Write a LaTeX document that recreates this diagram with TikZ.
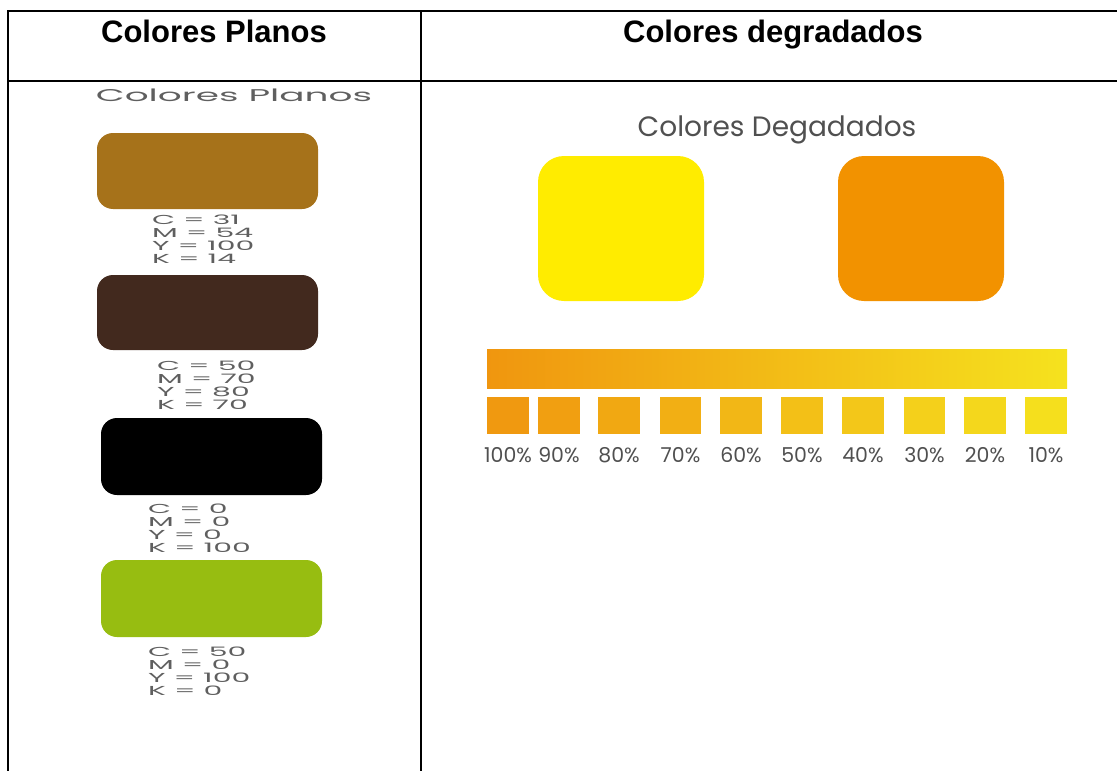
\documentclass[tikz,border=0pt]{standalone}
\usepackage{fontspec}
\setmainfont{Liberation Sans}
\newfontfamily\gfont{Poppins}
\definecolor{cbrown}{RGB}{166,114,26}
\definecolor{cdark}{RGB}{66,41,30}
\definecolor{cgreen}{RGB}{151,189,17}
\definecolor{cyellow}{RGB}{255,236,0}
\definecolor{corange}{RGB}{242,146,0}
\definecolor{gL}{RGB}{240,150,15}
\definecolor{gR}{RGB}{245,226,30}
\definecolor{txtgray}{RGB}{80,80,80}
\definecolor{lgray}{RGB}{95,95,95}
\tikzset{
  rule/.style={line width=1.6pt, black},
  header/.style={font=\fontsize{31}{36}\selectfont\bfseries, anchor=base, inner sep=0pt},
  swatch/.style={rounded corners=16pt},
  cmyk/.style={font=\gfont\fontsize{13}{13}\selectfont, text=lgray, anchor=west, inner sep=0pt},
  pct/.style={font=\gfont\fontsize{20.5}{20.5}\selectfont, text=txtgray, inner sep=0pt},
}
\newcommand{\sx}[1]{\scalebox{2.3}[1]{#1}}
\begin{document}
\begin{tikzpicture}[x=1pt,y=-1pt]
\useasboundingbox (0,0) rectangle (1117,771);
% table rules
\coordinate (tl) at (8,11);
\coordinate (tr) at (1117,11);
\coordinate (ml) at (8,81);
\coordinate (mr) at (1117,81);
\coordinate (bl) at (8,771);
\coordinate (ct) at (421,11);
\coordinate (cb) at (421,771);
\draw[rule] (bl) -- (tl) -- (tr);
\draw[rule] (ml) -- (mr);
\draw[rule] (ct) -- (cb);
% headers
\node[header] (h1) at (214,42) {Colores Planos};
\node[header] (h2) at (773,42) {Colores degradados};
% left column
\node[font=\gfont\fontsize{17}{17}\selectfont, text=lgray, inner sep=0pt] (lt) at (234,95) {\scalebox{2.2}[1]{Colores Planos}};
\fill[cbrown, swatch] (97,133) rectangle (318,209);
\fill[cdark, swatch] (97,275) rectangle (318,350);
\fill[black, swatch] (101,418) rectangle (322,495);
\fill[cgreen, swatch] (101,560) rectangle (322,637);
\node[cmyk] (a1) at (152,220) {\sx{C = 31}};
\node[cmyk] (a2) at (152,233) {\sx{M = 54}};
\node[cmyk] (a3) at (152,246) {\sx{Y = 100}};
\node[cmyk] (a4) at (152,259) {\sx{K = 14}};
\node[cmyk] (b1) at (157,366) {\sx{C = 50}};
\node[cmyk] (b2) at (157,379) {\sx{M = 70}};
\node[cmyk] (b3) at (157,392) {\sx{Y = 80}};
\node[cmyk] (b4) at (157,405) {\sx{K = 70}};
\node[cmyk] (c1) at (148,509) {\sx{C = 0}};
\node[cmyk] (c2) at (148,522) {\sx{M = 0}};
\node[cmyk] (c3) at (148,535) {\sx{Y = 0}};
\node[cmyk] (c4) at (148,548) {\sx{K = 100}};
\node[cmyk] (d1) at (148,652) {\sx{C = 50}};
\node[cmyk] (d2) at (148,665) {\sx{M = 0}};
\node[cmyk] (d3) at (148,678) {\sx{Y = 100}};
\node[cmyk] (d4) at (148,691) {\sx{K = 0}};
% right column
\node[font=\gfont\fontsize{28}{28}\selectfont, text=txtgray, inner sep=0pt, anchor=base] (rt) at (777,136) {Colores Degadados};
\fill[cyellow, rounded corners=26pt] (538,156) rectangle (704,301);
\fill[corange, rounded corners=26pt] (838,156) rectangle (1004,301);
\shade[left color=gL, right color=gR] (487,349) rectangle (1067,388);
\foreach \xa/\xb/\lab/\p in {487/529/100/4, 538/580/90/12, 598/640/80/23, 660/701/70/33, 720/762/60/44, 781/823/50/55, 842/884/40/65, 904/945/30/76, 964/1006/20/86, 1025/1067/10/96}{
  \fill[gR!\p!gL] (\xa,397) rectangle (\xb,434);
  \node[pct] (p\lab) at ({(\xa+\xb)/2},455) {\lab\%};
}
\end{tikzpicture}
\end{document}
